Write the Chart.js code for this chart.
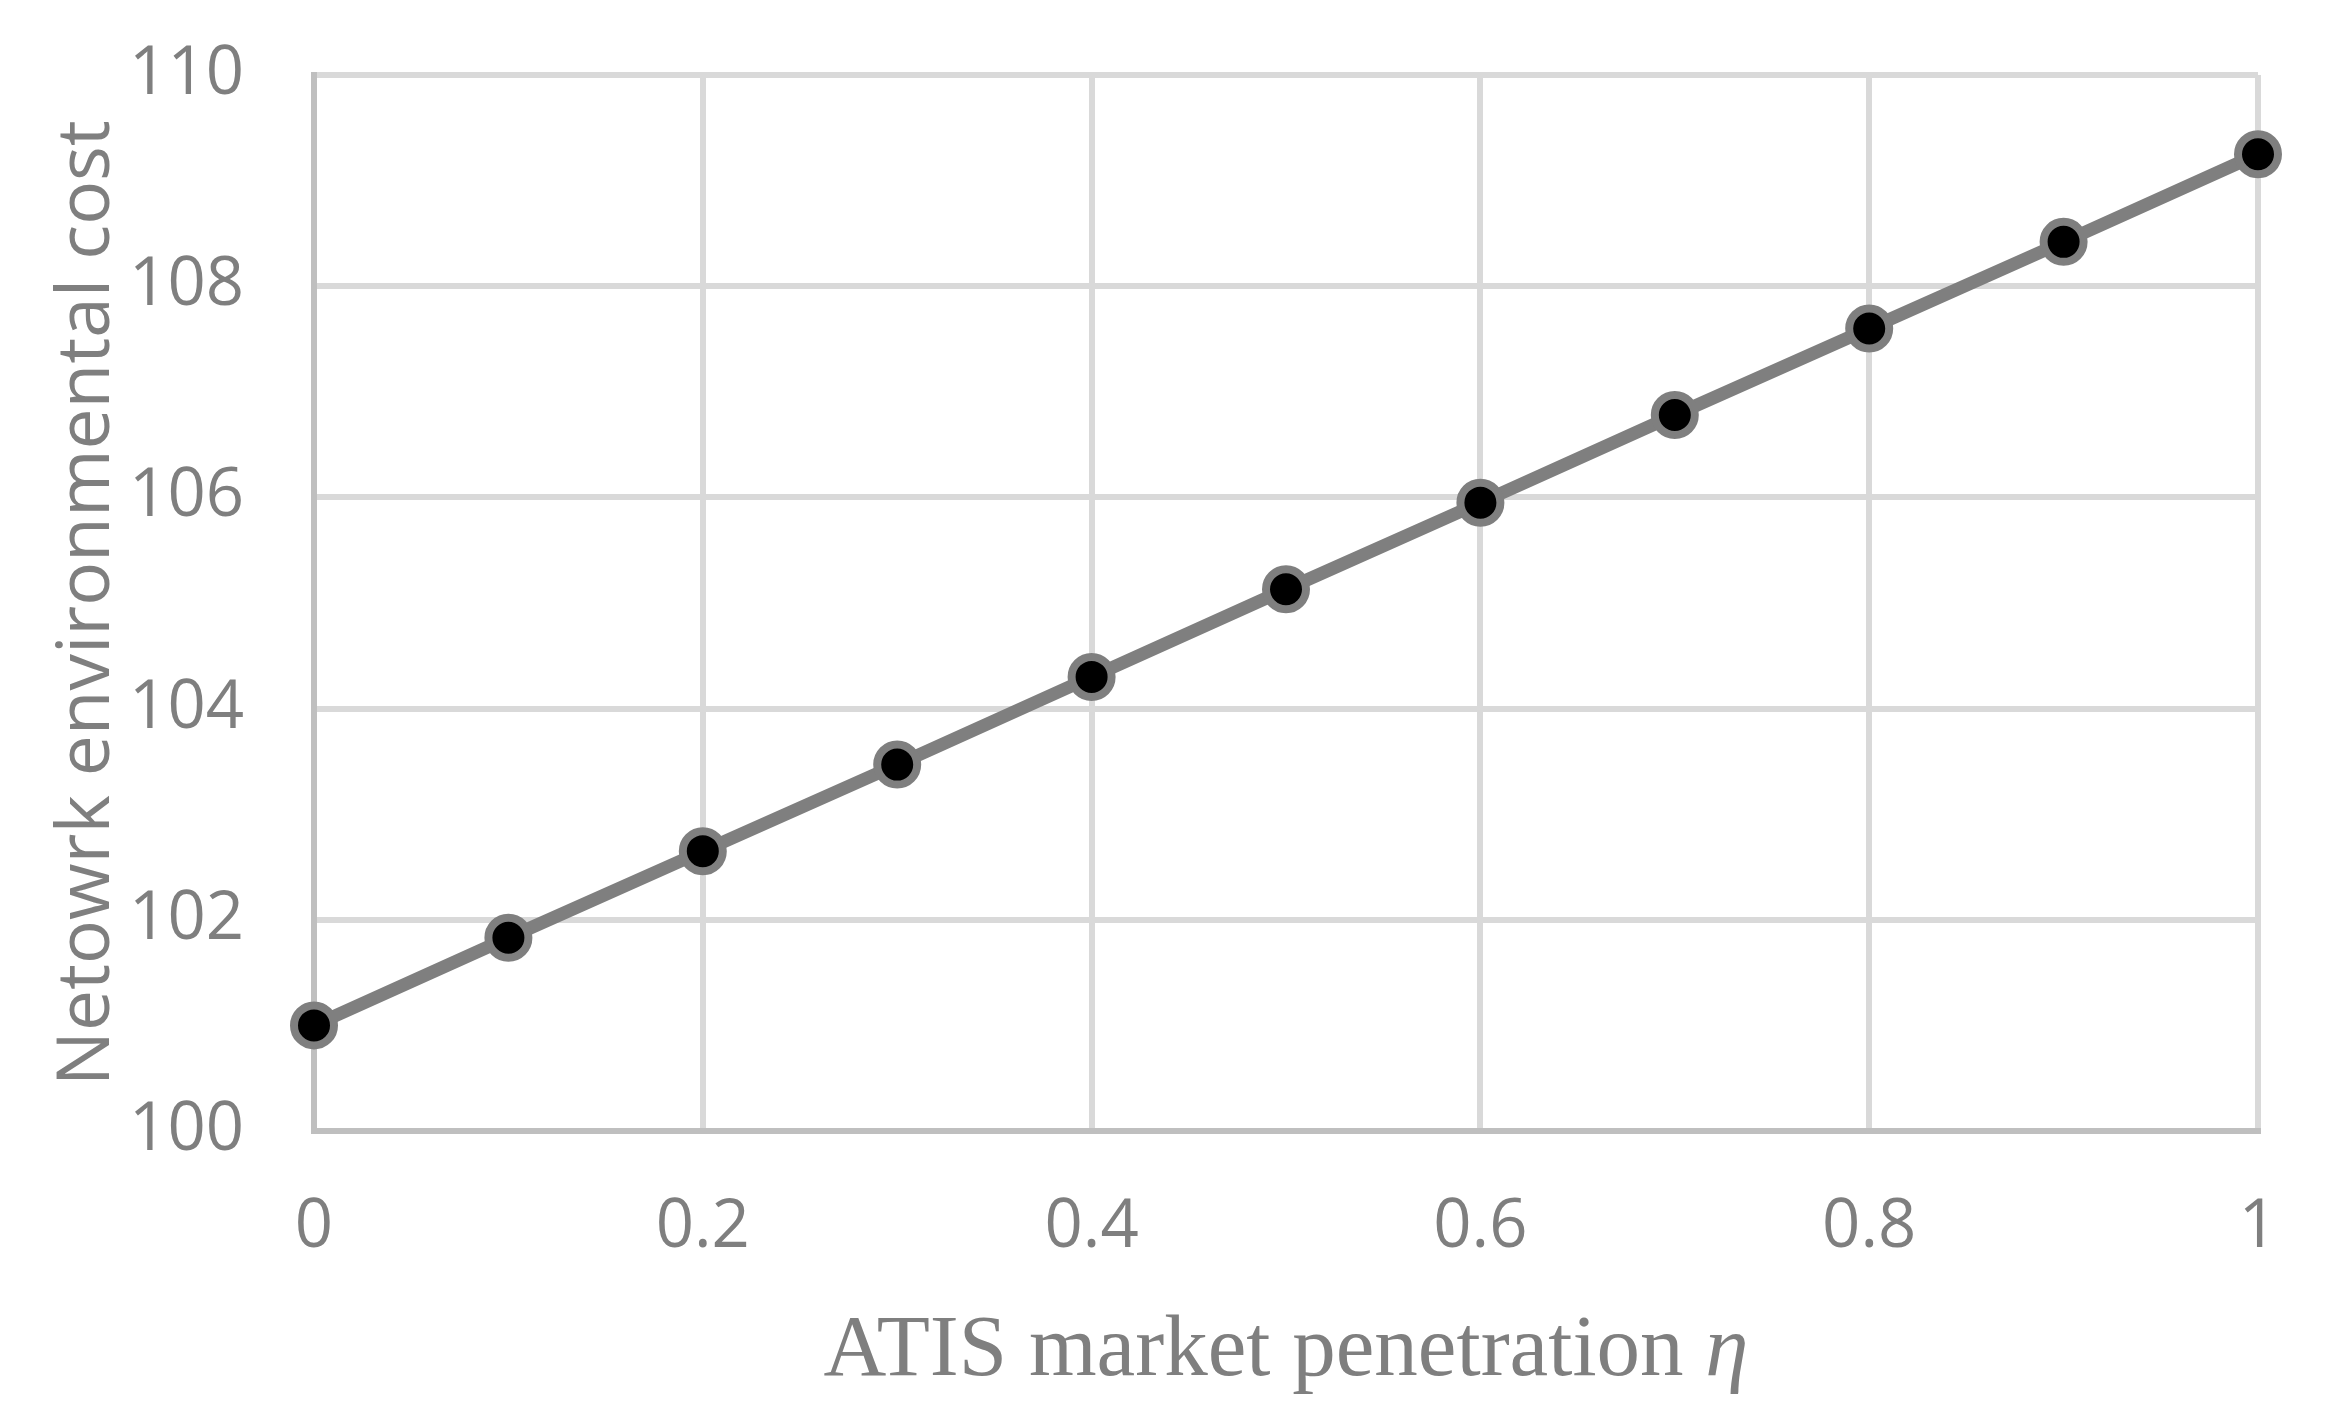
<!DOCTYPE html>
<html>
<head>
<meta charset="utf-8">
<script src="https://cdn.jsdelivr.net/npm/chart.js@4/dist/chart.umd.min.js"></script>
<style>
  html, body { margin: 0; padding: 0; background: #fff; }
  #wrap { width: 2345px; height: 1418px; position: relative; }
</style>
</head>
<body>
<div id="wrap"><canvas id="costChart"></canvas></div>
<script>
// Data
const penetration = [0, 0.1, 0.2, 0.3, 0.4, 0.5, 0.6, 0.7, 0.8, 0.9, 1];
const envCost = [101.0, 101.83, 102.65, 103.47, 104.3, 105.13, 105.95, 106.78, 107.6, 108.42, 109.25];
const yTitle = 'Netowrk environmental cost';
const xTitle = 'ATIS market penetration ';
const xSymbol = '\u03B7';

const grey = '#7f7f7f';
const tickFont = { family: "'Open Sans', sans-serif", size: 67 };

// x axis title has an italic eta, so draw it by hand
const xTitlePlugin = {
    id: 'xTitle',
    afterDraw(chart) {
        const { ctx, chartArea } = chart;
        ctx.save();
        ctx.fillStyle = grey;
        ctx.textBaseline = 'alphabetic';
        const normal = "87px 'Liberation Serif', serif";
        const italic = "italic 87px 'Liberation Serif', serif";
        ctx.font = normal;
        const w1 = ctx.measureText(xTitle).width;
        ctx.font = italic;
        const w2 = ctx.measureText(xSymbol).width;
        const cx = (chartArea.left + chartArea.right) / 2;
        const x0 = cx - (w1 + w2) / 2;
        const y = 1375;
        ctx.font = normal;
        ctx.textAlign = 'left';
        ctx.fillText(xTitle, x0, y);
        ctx.font = italic;
        ctx.fillText(xSymbol, x0 + w1, y);
        ctx.restore();
    }
};

const ctx = document.getElementById('costChart').getContext('2d');
const costChart = new Chart(ctx, {
    type: 'line',
    data: {
        datasets: [{
            label: 'cost',
            data: penetration.map((p, i) => ({ x: p, y: envCost[i] })),
            borderColor: grey,
            borderWidth: 13,
            pointRadius: 20,
            pointBorderWidth: 8,
            pointBackgroundColor: '#000',
            pointBorderColor: grey,
            tension: 0,
            clip: false
        }]
    },
    options: {
        responsive: true,
        maintainAspectRatio: false,
        animation: false,
        layout: { padding: { left: 0, right: 87, top: 75, bottom: 0 } },
        plugins: {
            legend: { display: false },
            tooltip: { enabled: false }
        },
        scales: {
            x: {
                type: 'linear',
                min: 0, max: 1,
                ticks: {
                    stepSize: 0.2, color: grey, font: tickFont, padding: 57, maxRotation: 0,
                    callback: (v) => String(Number(v.toFixed(1)))
                },
                grid: { color: '#d9d9d9', lineWidth: 6, drawTicks: false },
                border: { color: '#bfbfbf', width: 6 },
                afterFit(scale) {
                    scale.height = 287;
                    scale.paddingLeft = 0;
                    scale.paddingRight = 0;
                }
            },
            y: {
                min: 100, max: 110,
                ticks: { stepSize: 2, color: grey, font: tickFont, padding: 70 },
                grid: { color: '#d9d9d9', lineWidth: 6, drawTicks: false },
                border: { color: '#bfbfbf', width: 6 },
                title: {
                    display: true,
                    text: yTitle,
                    color: grey,
                    font: { family: "'Open Sans', sans-serif", size: 73 },
                    padding: { top: 44, bottom: 0 }
                },
                afterFit(scale) {
                    scale.width = 314;
                    scale.paddingTop = 0;
                    scale.paddingBottom = 0;
                }
            }
        }
    },
    plugins: [xTitlePlugin]
});
</script>
</body>
</html>
